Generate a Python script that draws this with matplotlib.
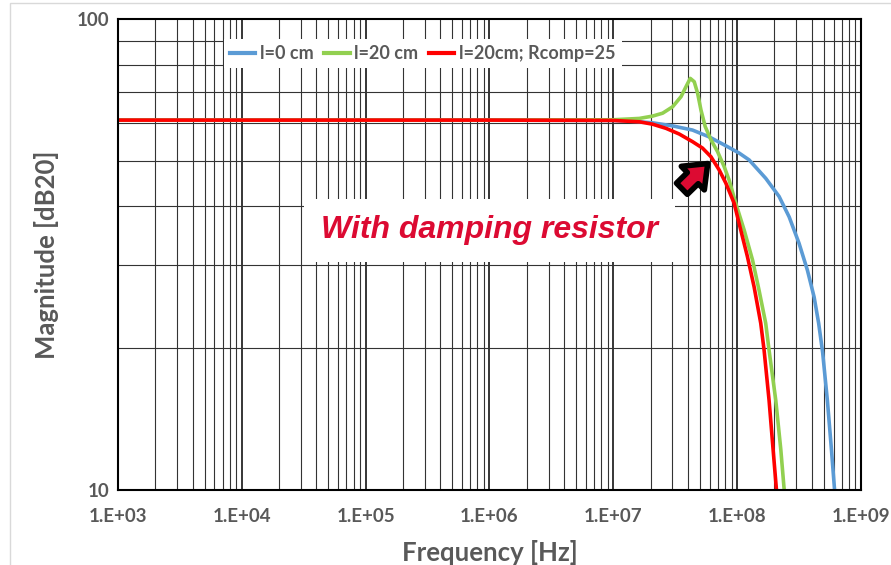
import numpy as np
import matplotlib
matplotlib.use("Agg")
import matplotlib.pyplot as plt
from matplotlib.patches import Rectangle

# data (frequency in Hz, magnitude in dB20)
freq_blue = [1e3, 1e6, 1e7, 1.5e7, 2.07e7, 3.01e7, 4.36e7, 5.94e7, 8.11e7, 1.04e8,
             1.25e8, 1.70e8, 2.18e8, 2.63e8, 3.16e8, 3.69e8, 4.18e8, 4.55e8, 4.90e8,
             5.35e8, 5.77e8, 6.10e8, 6.2e8]
mag_blue = [61.0, 61.0, 60.9, 60.6, 60.2, 59.3, 58.1, 56.2, 53.8, 51.9,
            50.2, 45.9, 42.0, 38.0, 33.4, 29.3, 25.7, 22.6, 19.6,
            15.5, 12.2, 10.1, 9.5]

freq_green = [1e3, 1e6, 1e7, 1.12e7, 1.62e7, 2.07e7, 2.50e7, 3.01e7, 3.52e7, 3.86e7,
              4.18e7, 4.50e7, 4.79e7, 5.10e7, 5.52e7, 6.14e7, 6.94e7, 7.85e7, 8.61e7,
              9.75e7, 1.14e8, 1.33e8, 1.50e8, 1.70e8, 1.81e8, 2.05e8, 2.25e8, 2.39e8, 2.45e8]
mag_green = [61.0, 61.0, 61.1, 61.2, 61.5, 62.2, 63.1, 65.1, 68.4, 71.8,
             74.8, 73.6, 69.6, 64.1, 59.1, 55.4, 52.3, 48.6, 45.5,
             40.6, 35.6, 30.8, 26.6, 22.6, 19.8, 15.5, 12.2, 10.1, 9.5]

freq_red = [1e3, 1e6, 1e7, 1.12e7, 1.62e7, 2.07e7, 2.66e7, 3.40e7, 4.36e7, 5.25e7,
            6.14e7, 7.16e7, 8.11e7, 9.46e7, 1.07e8, 1.21e8, 1.37e8, 1.55e8, 1.65e8,
            1.81e8, 1.95e8, 2.07e8, 2.12e8]
mag_red = [61.0, 61.0, 60.9, 60.8, 60.5, 59.8, 58.6, 57.0, 54.9, 53.2,
           51.0, 47.8, 44.8, 40.6, 35.6, 31.3, 27.0, 22.6, 19.8,
           15.5, 12.2, 10.1, 9.5]

series_labels = ["l=0 cm", "l=20 cm", "l=20cm; Rcomp=25"]
series_colors = ["#5B9BD5", "#92D050", "#FF0000"]

xticks = [1e3, 1e4, 1e5, 1e6, 1e7, 1e8, 1e9]
xtick_labels = ["1.E+03", "1.E+04", "1.E+05", "1.E+06", "1.E+07", "1.E+08", "1.E+09"]
yticks = [10, 100]
ytick_labels = ["10", "100"]

gray = "#595959"
plt.rcParams['font.family'] = ['Lato', 'DejaVu Sans']

fig = plt.figure(figsize=(8.91, 5.65), dpi=100)
ax = fig.add_axes([118 / 891, 1 - 490 / 565, (861 - 118) / 891, (490 - 19) / 565])

fig.patches.append(Rectangle((10 / 891, -0.2), 1.0, 1.2 - 3 / 565, transform=fig.transFigure,
                             fill=False, edgecolor="#d9d9d9", lw=1))

ax.set_xscale("log")
ax.set_yscale("log")
ax.set_xlim(1e3, 1e9)
ax.set_ylim(10, 100)

ax.grid(True, which="major", color="black", lw=1.1)
ax.grid(True, which="minor", color="#333333", lw=0.8)
ax.tick_params(which="both", length=0)

for f, m, lab, c in zip([freq_blue, freq_green, freq_red], [mag_blue, mag_green, mag_red],
                        series_labels, series_colors):
    ax.plot(f, m, color=c, lw=2.6, label=lab, solid_joinstyle="round")

ax.set_xticks(xticks)
ax.set_xticklabels(xtick_labels, fontsize=13.5, fontweight="bold", color=gray)
ax.set_yticks(yticks)
ax.set_yticklabels(ytick_labels, fontsize=13.5, fontweight="bold", color=gray)
ax.yaxis.set_minor_formatter(matplotlib.ticker.NullFormatter())
ax.xaxis.set_minor_formatter(matplotlib.ticker.NullFormatter())
ax.tick_params(axis="x", pad=13)
ax.tick_params(axis="y", pad=6)

ax.set_xlabel("Frequency [Hz]", fontsize=18.5, fontweight="bold", color=gray, labelpad=11)
ax.set_ylabel("Magnitude [dB20]", fontsize=18.5, fontweight="bold", color=gray, labelpad=13)

for s in ax.spines.values():
    s.set_color("black")
    s.set_linewidth(1.5)

leg = ax.legend(loc="center", bbox_to_anchor=(0.41, 0.927), ncol=3, frameon=True,
                fancybox=False, edgecolor="none", framealpha=1, handlelength=1.4,
                columnspacing=0.6, handletextpad=0.25, borderpad=0.35,
                prop={"size": 13, "weight": "bold"})
for t in leg.get_texts():
    t.set_color(gray)
for h in leg.get_lines():
    h.set_linewidth(3)

ax.text(1e6, 35.6, "With damping resistor", fontsize=23, fontweight="bold",
        style="italic", color="#DC0A32", ha="center", va="center", family="Liberation Sans",
        bbox=dict(facecolor="white", edgecolor="none", pad=12), zorder=5)

ax.annotate("", xy=(6.0e7, 49.8), xytext=(3.45e7, 43.2),
            arrowprops=dict(arrowstyle="simple,head_width=0.95,head_length=0.6,tail_width=0.45",
                            mutation_scale=25, facecolor="#DC0A32", edgecolor="black", lw=4),
            zorder=6)

fig.savefig("out.png", dpi=100)
